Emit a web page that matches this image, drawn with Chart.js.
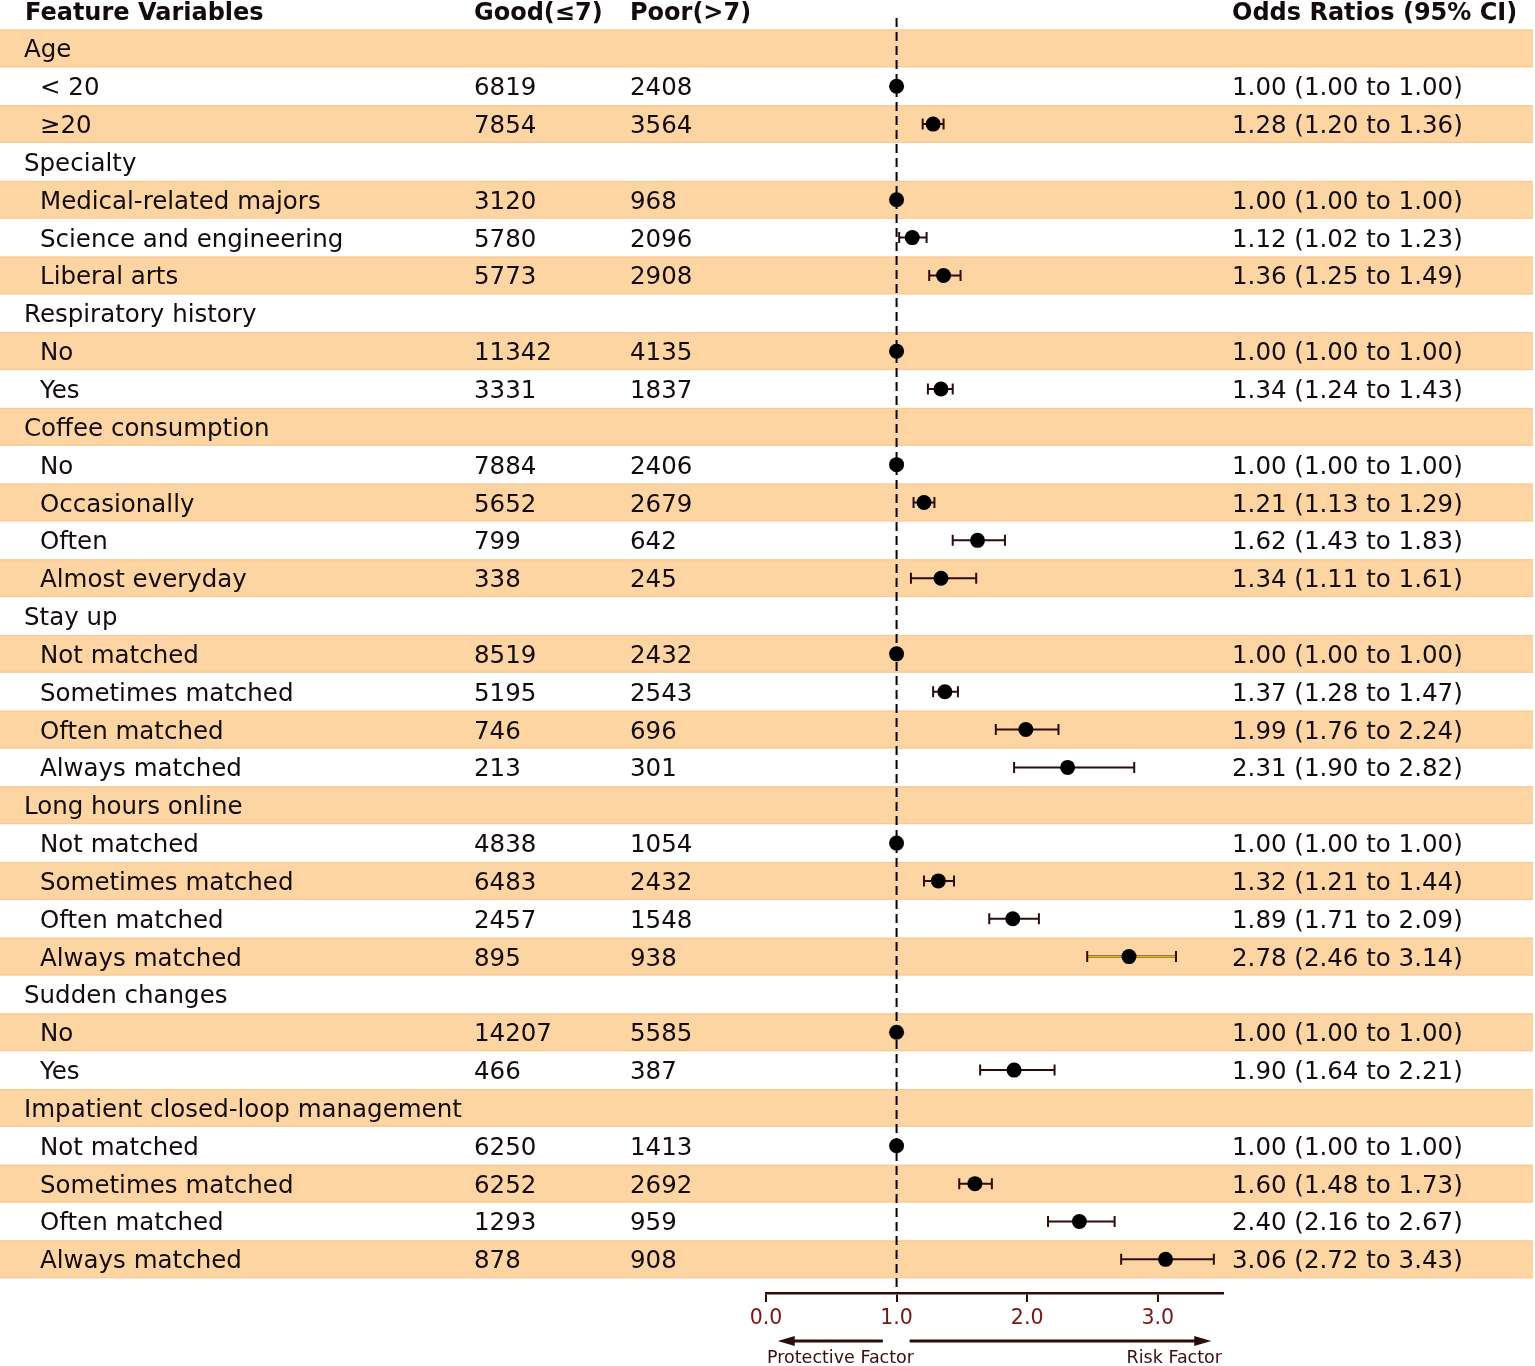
<!DOCTYPE html>
<html>
<head>
<meta charset="utf-8">
<script src="https://cdn.jsdelivr.net/npm/chart.js@4/dist/chart.umd.min.js"></script>
<style>
html,body{margin:0;padding:0;background:#fff;}
#wrap{width:1535px;height:1366px;position:relative;}
</style>
</head>
<body>
<div id="wrap"><canvas id="c" width="1535" height="1366"></canvas></div>
<script>
// ---------- DATA ----------
const rowLabels = [
  "Age", "< 20", "≥20",
  "Specialty", "Medical-related majors", "Science and engineering", "Liberal arts",
  "Respiratory history", "No", "Yes",
  "Coffee consumption", "No", "Occasionally", "Often", "Almost everyday",
  "Stay up", "Not matched", "Sometimes matched", "Often matched", "Always matched",
  "Long hours online", "Not matched", "Sometimes matched", "Often matched", "Always matched",
  "Sudden changes", "No", "Yes",
  "Impatient closed-loop management", "Not matched", "Sometimes matched", "Often matched", "Always matched"
];
const isGroup = [
  true, false, false,
  true, false, false, false,
  true, false, false,
  true, false, false, false, false,
  true, false, false, false, false,
  true, false, false, false, false,
  true, false, false,
  true, false, false, false, false
];
const goodCounts = [
  null, 6819, 7854,
  null, 3120, 5780, 5773,
  null, 11342, 3331,
  null, 7884, 5652, 799, 338,
  null, 8519, 5195, 746, 213,
  null, 4838, 6483, 2457, 895,
  null, 14207, 466,
  null, 6250, 6252, 1293, 878
];
const poorCounts = [
  null, 2408, 3564,
  null, 968, 2096, 2908,
  null, 4135, 1837,
  null, 2406, 2679, 642, 245,
  null, 2432, 2543, 696, 301,
  null, 1054, 2432, 1548, 938,
  null, 5585, 387,
  null, 1413, 2692, 959, 908
];
const oddsRatio = [
  null, 1.00, 1.28,
  null, 1.00, 1.12, 1.36,
  null, 1.00, 1.34,
  null, 1.00, 1.21, 1.62, 1.34,
  null, 1.00, 1.37, 1.99, 2.31,
  null, 1.00, 1.32, 1.89, 2.78,
  null, 1.00, 1.90,
  null, 1.00, 1.60, 2.40, 3.06
];
const ciLower = [
  null, 1.00, 1.20,
  null, 1.00, 1.02, 1.25,
  null, 1.00, 1.24,
  null, 1.00, 1.13, 1.43, 1.11,
  null, 1.00, 1.28, 1.76, 1.90,
  null, 1.00, 1.21, 1.71, 2.46,
  null, 1.00, 1.64,
  null, 1.00, 1.48, 2.16, 2.72
];
const ciUpper = [
  null, 1.00, 1.36,
  null, 1.00, 1.23, 1.49,
  null, 1.00, 1.43,
  null, 1.00, 1.29, 1.83, 1.61,
  null, 1.00, 1.47, 2.24, 2.82,
  null, 1.00, 1.44, 2.09, 3.14,
  null, 1.00, 2.21,
  null, 1.00, 1.73, 2.67, 3.43
];
const headers = ["Feature Variables", "Good(≤7)", "Poor(>7)", "Odds Ratios (95% CI)"];
const xTicks = [0, 1, 2, 3];
const refValue = 1.0;
const xMin = 0, xMax = 3.5;
const directionLabels = ["Protective Factor", "Risk Factor"];

// ---------- STYLE ----------
const FONT = "'DejaVu Sans', 'Noto Sans CJK SC', sans-serif";
const TEXT = "#140c0c";
const BAND = "#fdd5a3";
const BAND_EDGE = "#f9c994";
const DARK = "#2e0c0c";
const TICKRED = "#7a1616";

const points = [];
rowLabels.forEach((l, i) => { if (!isGroup[i]) points.push({x: oddsRatio[i], y: i}); });

const tablePlugin = {
  id: 'tablePlugin',
  beforeDraw(chart) {
    const ctx = chart.ctx, ys = chart.scales.y;
    ctx.save();
    ctx.fillStyle = '#fff';
    ctx.fillRect(0, 0, chart.width, chart.height);
    rowLabels.forEach((l, i) => {
      if (i % 2 === 0) {
        const t = ys.getPixelForValue(i - 0.5), b = ys.getPixelForValue(i + 0.5);
        ctx.fillStyle = BAND;
        ctx.fillRect(0, t, 1533, b - t);
        ctx.fillStyle = BAND_EDGE;
        ctx.fillRect(0, t, 1533, 1.2);
        ctx.fillRect(0, b - 1.2, 1533, 1.2);
      }
    });
    ctx.restore();
  },
  beforeDatasetsDraw(chart) {
    const ctx = chart.ctx, xs = chart.scales.x, ys = chart.scales.y;
    ctx.save();
    // reference dashed line
    const xr = xs.getPixelForValue(refValue);
    ctx.strokeStyle = '#000';
    ctx.lineWidth = 2;
    ctx.setLineDash([9, 5]);
    ctx.beginPath();
    ctx.moveTo(xr, 18);
    ctx.lineTo(xr, chart.chartArea.bottom);
    ctx.stroke();
    ctx.setLineDash([]);
    // error bars
    rowLabels.forEach((l, i) => {
      if (isGroup[i]) return;
      const y = ys.getPixelForValue(i);
      const x1 = xs.getPixelForValue(ciLower[i]), x2 = xs.getPixelForValue(ciUpper[i]);
      if (x2 - x1 < 1) return;
      ctx.strokeStyle = DARK;
      ctx.lineWidth = 2;
      ctx.beginPath();
      ctx.moveTo(x1, y); ctx.lineTo(x2, y);
      ctx.moveTo(x1, y - 5.5); ctx.lineTo(x1, y + 5.5);
      ctx.moveTo(x2, y - 5.5); ctx.lineTo(x2, y + 5.5);
      ctx.stroke();
      if (i === 24) {
        ctx.strokeStyle = '#e0c400';
        ctx.lineWidth = 1.3;
        ctx.beginPath();
        ctx.moveTo(x1 + 1, y); ctx.lineTo(x2 - 1, y);
        ctx.stroke();
      }
    });
    ctx.restore();
  },
  afterDraw(chart) {
    const ctx = chart.ctx, xs = chart.scales.x, ys = chart.scales.y;
    ctx.save();
    ctx.fillStyle = TEXT;
    ctx.textBaseline = 'alphabetic';
    ctx.textAlign = 'left';
    // headers
    ctx.font = "bold 24px " + FONT;
    ctx.fillText(headers[0], 25, 20);
    ctx.fillText(headers[1], 474, 20);
    ctx.fillText(headers[2], 630, 20);
    ctx.fillText(headers[3], 1232, 20);
    // rows
    ctx.font = "24.5px " + FONT;
    rowLabels.forEach((l, i) => {
      const yb = ys.getPixelForValue(i) + 9;
      ctx.fillText(l, isGroup[i] ? 24 : 40, yb);
      if (!isGroup[i]) {
        ctx.fillText(String(goodCounts[i]), 474, yb);
        ctx.fillText(String(poorCounts[i]), 630, yb);
        ctx.fillText(oddsRatio[i].toFixed(2) + " (" + ciLower[i].toFixed(2) + " to " + ciUpper[i].toFixed(2) + ")", 1232, yb);
      }
    });
    // direction arrows
    const ay = 1341;
    const drawArrow = (xa, xb) => {
      ctx.strokeStyle = DARK; ctx.fillStyle = DARK; ctx.lineWidth = 3;
      const dir = Math.sign(xb - xa);
      ctx.beginPath(); ctx.moveTo(xa, ay); ctx.lineTo(xb - dir * 10, ay); ctx.stroke();
      ctx.beginPath(); ctx.moveTo(xb, ay); ctx.lineTo(xb - dir * 17, ay - 5); ctx.lineTo(xb - dir * 17, ay + 5); ctx.closePath(); ctx.fill();
    };
    drawArrow(xs.getPixelForValue(0.895), xs.getPixelForValue(0.09));
    drawArrow(xs.getPixelForValue(1.1), xs.getPixelForValue(3.41));
    ctx.fillStyle = '#3a0e0e';
    ctx.font = "17.5px " + FONT;
    ctx.textAlign = 'left';
    ctx.fillText(directionLabels[0], xs.getPixelForValue(xMin) + 1, 1363);
    ctx.textAlign = 'right';
    ctx.fillText(directionLabels[1], xs.getPixelForValue(xMax) - 1, 1363);
    ctx.restore();
  }
};

new Chart(document.getElementById('c'), {
  type: 'scatter',
  data: {
    datasets: [{
      data: points,
      backgroundColor: '#000',
      borderColor: '#000',
      pointRadius: 7.5,
      pointHoverRadius: 7.5,
      borderWidth: 0
    }]
  },
  options: {
    responsive: false,
    animation: false,
    events: [],
    layout: { padding: { left: 766, right: 312, top: 29.5, bottom: 0 } },
    plugins: { legend: { display: false }, tooltip: { enabled: false } },
    scales: {
      x: {
        type: 'linear', position: 'bottom', min: xMin, max: xMax,
        afterFit(s) { s.height = 73; },
        afterBuildTicks(s) { s.ticks = xTicks.map(v => ({ value: v })); },
        ticks: {
          includeBounds: false,
          color: TICKRED,
          font: { family: FONT, size: 20.5 },
          padding: 4,
          callback: v => Number(v).toFixed(1),
          maxRotation: 0
        },
        grid: { drawOnChartArea: false, drawTicks: true, tickLength: 9, color: DARK, lineWidth: 2 },
        border: { display: true, color: DARK, width: 2.5 }
      },
      y: { type: 'linear', display: false, min: -0.5, max: 32.89, reverse: true }
    }
  },
  plugins: [tablePlugin]
});
</script>
</body>
</html>
